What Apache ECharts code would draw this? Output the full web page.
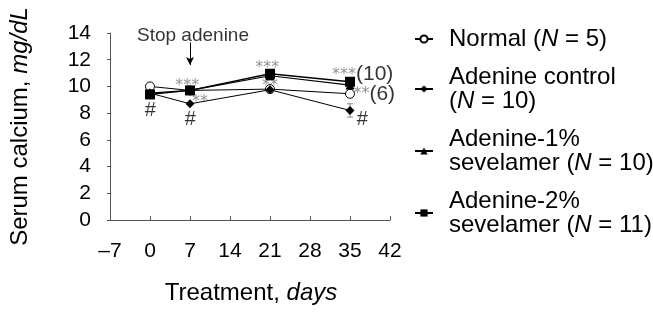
<html lang="en">
<head>
  <meta charset="UTF-8">
  <title>Serum calcium</title>
  <script src="https://cdn.jsdelivr.net/npm/echarts@6/dist/echarts.min.js"></script>
  <style>
    body { margin: 0; padding: 0; background: #fff; }
    #chart { width: 653px; height: 314px; }
  </style>
</head>
<body>
  <div id="chart"></div>
  <script>
    let days = [0, 7, 21, 35];
    let normal = [10.0, 9.7, 9.8, 9.45];
    let adenineControl = [9.5, 8.7, 9.75, 8.2];
    let adenine1 = [9.5, 9.7, 10.8, 10.1];
    let adenine2 = [9.4, 9.7, 10.95, 10.35];
    let controlErr = [0, 0, 0.2, 0.5];

    // significance marks: [day, value, text], text starts at the point
    let marks = [
      [-0.9, 8.2, '{h|#}'],
      [4.4, 10.05, '{s|***}'],
      [7.35, 8.85, '{s|**}'],
      [6.1, 7.5, '{h|#}'],
      [18.4, 11.4, '{s|***}'],
      [19.6, 10.05, '{s|**}'],
      [31.85, 10.9, '{s|***}{p|(10)}'],
      [35.6, 9.45, '{s|**}{p|(6)}'],
      [36.2, 7.55, '{h|#}']
    ];

    let font = 'Liberation Sans';
    let chart = echarts.init(document.getElementById('chart'));

    function pts(vals) {
      return days.map(function (d, i) { return [d, vals[i]]; });
    }

    let legendNames = [
      'Normal ({i|N} = 5)',
      'Adenine control\n({i|N} = 10)',
      'Adenine-1%\nsevelamer ({i|N} = 10)',
      'Adenine-2%\nsevelamer ({i|N} = 11)'
    ];

    let option = {
      animation: false,
      textStyle: { fontFamily: font },
      grid: { left: 110, right: 263, top: 33, bottom: 94 },
      legend: {
        orient: 'vertical',
        left: 409,
        top: 22,
        itemWidth: 18,
        itemHeight: 9,
        itemGap: 14,
        data: legendNames,
        textStyle: {
          fontFamily: font,
          fontSize: 24,
          lineHeight: 24,
          color: '#000',
          padding: [0, 0, 0, 11],
          rich: {
            i: { fontStyle: 'italic', fontSize: 24, lineHeight: 24, fontFamily: font, color: '#000' }
          }
        }
      },
      xAxis: {
        type: 'value',
        min: -7,
        max: 42,
        interval: 7,
        name: 'Treatment, {i|days}',
        nameLocation: 'middle',
        nameGap: 61,
        nameTextStyle: {
          fontSize: 24, color: '#000', padding: [0, 0, 0, 2],
          rich: { i: { fontStyle: 'italic', fontSize: 24, color: '#000', fontFamily: font } }
        },
        axisLine: { onZero: false, lineStyle: { color: '#555', width: 1 } },
        axisTick: { inside: true, length: 4, lineStyle: { color: '#555' } },
        axisLabel: {
          fontSize: 21, color: '#000', margin: 21,
          formatter: function (v) { return v < 0 ? '\u2013' + Math.abs(v) : String(v); }
        },
        splitLine: { show: false }
      },
      yAxis: {
        type: 'value',
        min: 0,
        max: 14,
        interval: 2,
        name: 'Serum calcium, {i|mg/dL}',
        nameLocation: 'middle',
        nameGap: 78,
        nameTextStyle: {
          fontSize: 24, color: '#000',
          rich: { i: { fontStyle: 'italic', fontSize: 24, color: '#000', fontFamily: font } }
        },
        axisLine: { show: true, onZero: false, lineStyle: { color: '#555', width: 1 } },
        axisTick: { show: true, length: 3, lineStyle: { color: '#555' } },
        axisLabel: { fontSize: 21, color: '#000', margin: 19 },
        splitLine: { show: false }
      },
      series: [
        {
          name: legendNames[0],
          type: 'line',
          data: pts(normal),
          symbol: 'circle',
          symbolSize: 9,
          itemStyle: { color: '#fff', borderColor: '#000', borderWidth: 1 },
          lineStyle: { color: '#000', width: 1 }
        },
        {
          name: legendNames[1],
          type: 'line',
          data: pts(adenineControl),
          symbol: 'diamond',
          symbolSize: 9,
          itemStyle: { color: '#000' },
          lineStyle: { color: '#000', width: 1 }
        },
        {
          name: legendNames[2],
          type: 'line',
          data: pts(adenine1),
          symbol: 'triangle',
          symbolSize: 9,
          itemStyle: { color: '#000' },
          lineStyle: { color: '#000', width: 1.2 }
        },
        {
          name: legendNames[3],
          type: 'line',
          data: pts(adenine2),
          symbol: 'rect',
          symbolSize: 10,
          itemStyle: { color: '#000' },
          lineStyle: { color: '#000', width: 1.3 },
          markLine: {
            silent: true,
            symbol: ['none', 'arrow'],
            symbolSize: [6, 8],
            label: { show: false },
            lineStyle: { color: '#000', width: 1, type: 'solid' },
            data: [[{ coord: [7, 13.3] }, { coord: [7, 11.6] }]]
          }
        },
        {
          type: 'custom',
          z: 1,
          silent: true,
          data: days.map(function (d, i) {
            return [d, adenineControl[i] - controlErr[i], adenineControl[i] + controlErr[i]];
          }),
          renderItem: function (params, api) {
            let lo = api.coord([api.value(0), api.value(1)]);
            let hi = api.coord([api.value(0), api.value(2)]);
            let st = { stroke: '#888', lineWidth: 1 };
            return {
              type: 'group',
              children: [
                { type: 'line', shape: { x1: lo[0], y1: lo[1], x2: hi[0], y2: hi[1] }, style: st },
                { type: 'line', shape: { x1: lo[0] - 3, y1: lo[1], x2: lo[0] + 3, y2: lo[1] }, style: st },
                { type: 'line', shape: { x1: hi[0] - 3, y1: hi[1], x2: hi[0] + 3, y2: hi[1] }, style: st }
              ]
            };
          }
        },
        {
          type: 'scatter',
          silent: true,
          symbolSize: 0,
          data: marks.map(function (m) { return { value: [m[0], m[1]], text: m[2] }; }),
          label: {
            show: true,
            position: 'right',
            distance: 0,
            formatter: function (p) { return p.data.text; },
            rich: {
              s: { fontSize: 16, color: '#777', fontFamily: 'DejaVu Sans' },
              h: { fontSize: 20, color: '#000', fontFamily: font },
              p: { fontSize: 21, color: '#000', fontFamily: font }
            }
          }
        },
        {
          type: 'scatter',
          silent: true,
          symbolSize: 0,
          data: [[7, 13.1]],
          label: {
            show: true,
            position: 'top',
            distance: 0,
            offset: [3, 0],
            formatter: 'Stop adenine',
            fontSize: 19,
            color: '#000',
            fontFamily: font
          }
        }
      ]
    };

    chart.setOption(option);
  </script>
</body>
</html>
